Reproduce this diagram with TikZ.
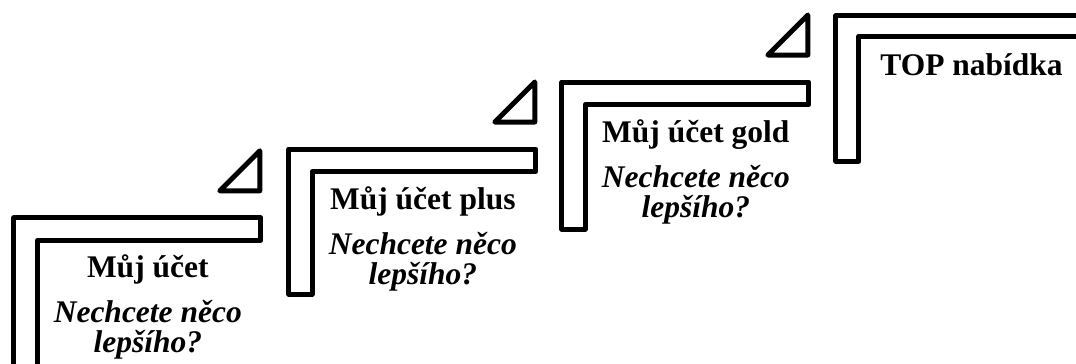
\documentclass[tikz,border=0pt]{standalone}
\usepackage{fontspec}
\setmainfont{Liberation Serif}
\usepackage{tikz}

\tikzset{
    stair/.style={line width=5pt, line join=round},
    title/.style={font=\fontsize{31.5}{32}\selectfont\bfseries, anchor=base, inner sep=0pt},
    note/.style={font=\fontsize{31.5}{32}\selectfont\bfseries\itshape, anchor=base, inner sep=0pt}
}

\begin{document}
\begin{tikzpicture}[x=1pt, y=-1pt]
    \useasboundingbox (0,0) rectangle (1076,364);
    \clip (0,0) rectangle (1076,364);
    % three lower steps
    \foreach \n/\x/\y/\h/\name in {1/13.8/217.8/150/Můj účet, 2/288.8/149/145/Můj účet plus, 3/561.8/82/147/Můj účet gold}{
        \draw[stair] (\x,\y) -- ++(247,0) -- ++(0,22.5) -- ++(-223.5,0) -- ++(0,\h-22.5) -- ++(-23.5,0) -- cycle;
        \draw[stair] (\x+206,\y-27) -- ++(40,0) -- ++(0,-40) -- cycle;
        \node[title] (title\n) at (\x+134,\y+60) {\name};
        \node[note] (note\n) at (\x+134,\y+105) {Nechcete něco};
        \node[note] (more\n) at (\x+134,\y+135) {lepšího?};
    }
    % top step
    \draw[stair] (835.8,15.8) -- (1090,15.8) -- (1090,36.3) -- (858.8,36.3) -- (858.8,161) -- (835.8,161) -- cycle;
    \node[title] (title4) at (971.5,75) {TOP nabídka};
\end{tikzpicture}
\end{document}
